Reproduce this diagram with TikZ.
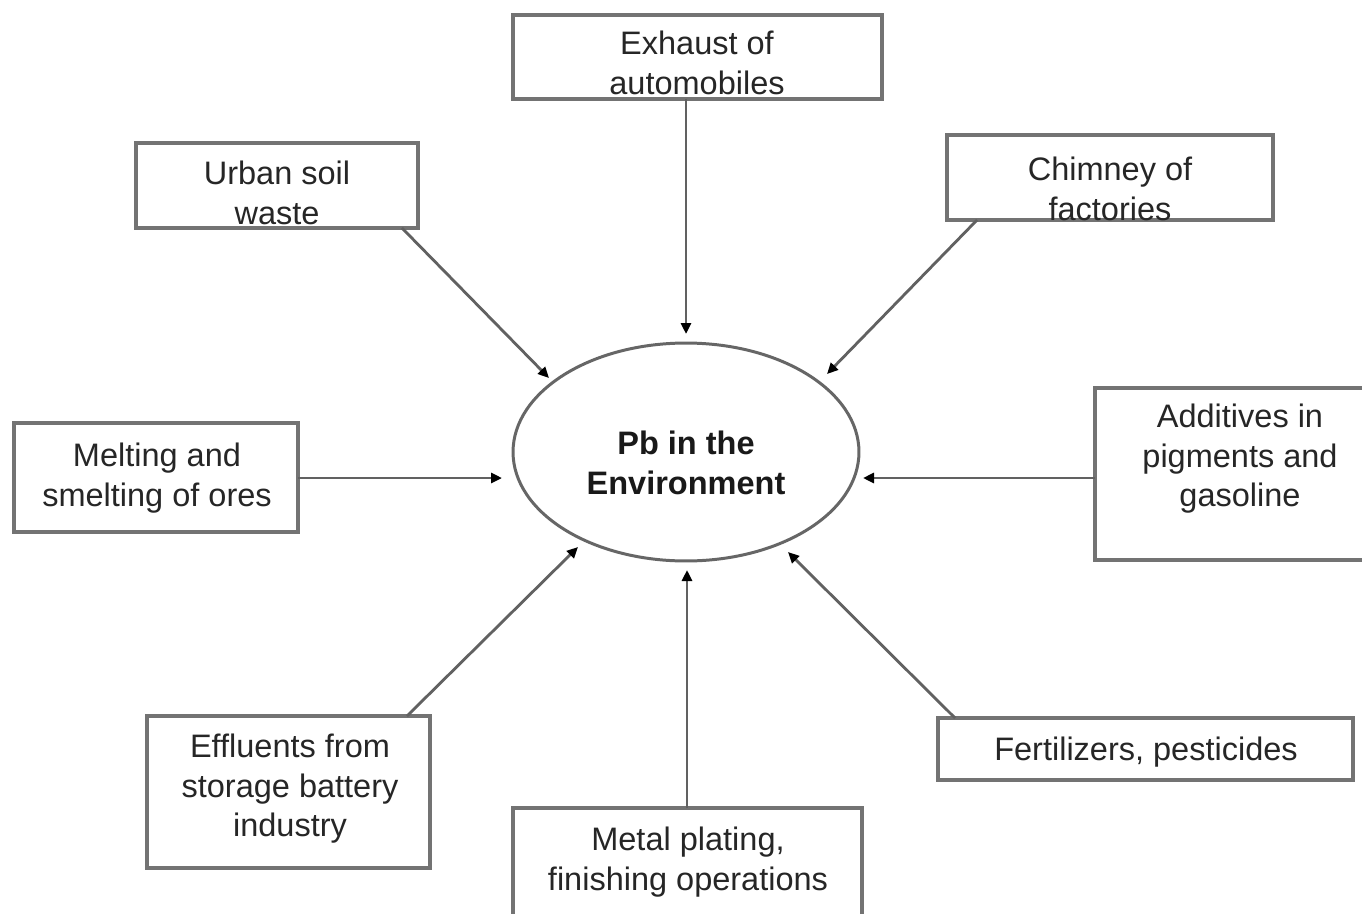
\documentclass[tikz,border=0pt]{standalone}
\usepackage{fontspec}
\setmainfont{Liberation Sans}
\usetikzlibrary{arrows.meta,calc,shapes.geometric}
\begin{document}
\begin{tikzpicture}[x=0.02cm,y=-0.02cm,
  box/.style={draw=black!55,line width=1.8pt,rectangle,inner sep=0pt,outer sep=0pt,fill=white},
  txt/.style={font=\fontsize{18.5}{22.5}\selectfont,align=center,text=black!85,inner sep=0pt},
  arr/.style={draw=black!62,line width=1.6pt,-{Triangle[length=0.22cm,width=0.2cm,color=black]}}]
\clip (0,0) rectangle (1362,913);
\fill[white] (0,0) rectangle (1362,913);
% boxes
\node[box,minimum width=7.38cm,minimum height=1.68cm] (exh) at (697.5,57) {};
\node[txt] (exht) at (697,63) {Exhaust of\\automobiles};
\node[box,minimum width=5.64cm,minimum height=1.70cm] (urb) at (277,185.5) {};
\node[txt] (urbt) at (277,193) {Urban soil\\waste};
\node[box,minimum width=6.52cm,minimum height=1.70cm] (chim) at (1110,177.5) {};
\node[txt] (chimt) at (1110,189) {Chimney of\\factories};
\node[box,minimum width=5.68cm,minimum height=2.18cm] (melt) at (156,477.5) {};
\node[txt] (meltt) at (157,478) {Melting and\\smelting of ores};
\node[box,minimum width=5.92cm,minimum height=3.44cm] (add) at (1243,474) {};
\node[txt] (addt) at (1240,459) {Additives in\\pigments and\\gasoline};
\node[box,minimum width=5.66cm,minimum height=3.04cm] (eff) at (288.5,792) {};
\node[txt] (efft) at (290,789) {Effluents from\\storage battery\\industry};
\node[box,minimum width=6.98cm,minimum height=2.84cm] (met) at (687.5,879) {};
\node[txt] (mett) at (688,862) {Metal plating,\\finishing operations};
\node[box,minimum width=8.30cm,minimum height=1.24cm] (fert) at (1145.5,749) {};
\node[txt] (fertt) at (1146,752) {Fertilizers, pesticides};
% centre
\node[draw=black!60,line width=1.7pt,ellipse,inner sep=0pt,minimum width=6.92cm,minimum height=4.36cm] (env) at (686,452) {};
\node[txt,font=\fontsize{18.5}{22.5}\selectfont\bfseries,text=black!90] (envt) at (686,463) {Pb in the\\Environment};
% arrow tips
\coordinate (t1) at (686,334);
\coordinate (t2) at (549,378);
\coordinate (t3) at (827,374);
\coordinate (t4) at (502,478);
\coordinate (t5) at (863,478);
\coordinate (t6) at (578,547);
\coordinate (t7) at (687,570);
\coordinate (t8) at (788,552);
% connectors
\draw[arr] (exh.south -| t1) -- (t1);
\draw[arr] ($(urb.south east)+(-16,0)$) -- (t2);
\draw[arr] ($(chim.south west)+(30,0)$) -- (t3);
\draw[arr] (melt.east |- t4) -- (t4);
\draw[arr] (add.west |- t5) -- (t5);
\draw[arr] ($(eff.north east)+(-23,0)$) -- (t6);
\draw[arr] (met.north -| t7) -- (t7);
\draw[arr] ($(fert.north west)+(17,0)$) -- (t8);
\end{tikzpicture}
\end{document}
